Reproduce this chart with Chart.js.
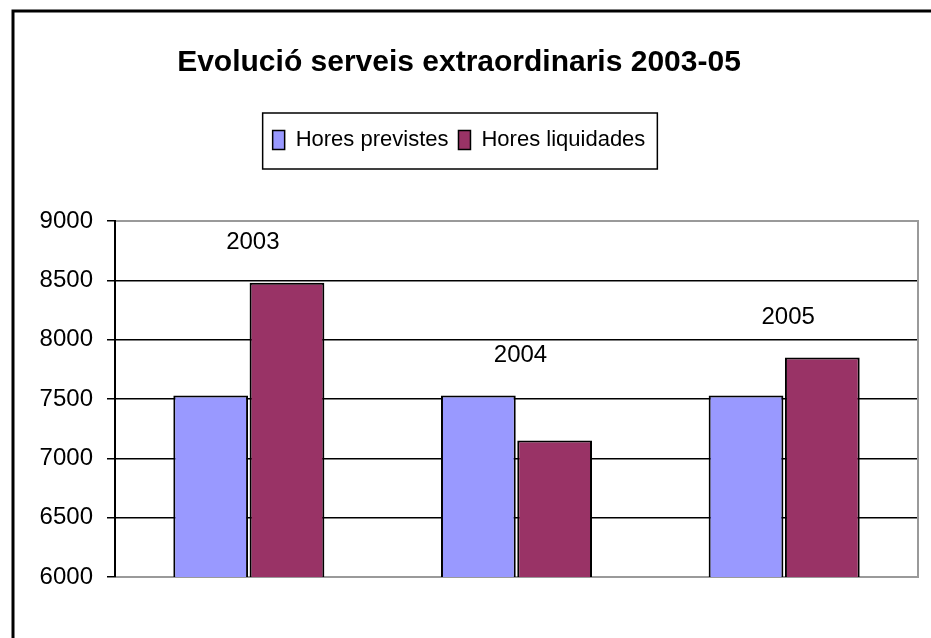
<!DOCTYPE html>
<html>
<head>
<meta charset="utf-8">
<script src="https://cdn.jsdelivr.net/npm/chart.js@4/dist/chart.umd.min.js"></script>
<style>
  html, body { margin: 0; padding: 0; background: #fff; }
  #wrap { width: 931px; height: 638px; position: relative; }
</style>
</head>
<body>
<div id="wrap"><canvas id="chart"></canvas></div>
<script>
// dades del grafic
const years = ['2003', '2004', '2005'];
const horesPrevistes = [7530, 7530, 7530];
const horesLiquidades = [8480, 7150, 7850];
const yTicks = [6000, 6500, 7000, 7500, 8000, 8500, 9000];

const FONT = "'Liberation Sans', Arial, sans-serif";

// marc exterior (nomes es veu a dalt i a l'esquerra)
const frame = {
    id: 'frame',
    beforeDraw(chart) {
        const ctx = chart.ctx;
        ctx.save();
        ctx.fillStyle = '#fff';
        ctx.fillRect(0, 0, chart.width, chart.height);
        ctx.strokeStyle = '#000';
        ctx.lineWidth = 3;
        ctx.beginPath();
        ctx.moveTo(13, chart.height);
        ctx.lineTo(13, 11);
        ctx.lineTo(chart.width, 11);
        ctx.stroke();
        ctx.restore();
    }
};

// espai entre la llegenda i el grafic
const legendSpace = {
    id: 'legendSpace',
    beforeInit(chart) {
        const fit = chart.legend.fit;
        chart.legend.fit = function() {
            fit.bind(chart.legend)();
            this.height += 60;
        };
    }
};

// requadre de la llegenda
const legendBox = {
    id: 'legendBox',
    afterDraw(chart) {
        const boxes = chart.legend.legendHitBoxes;
        if (!boxes || !boxes.length) return;
        const first = boxes[0];
        const last = boxes[boxes.length - 1];
        const ctx = chart.ctx;
        ctx.save();
        ctx.strokeStyle = '#000';
        ctx.lineWidth = 1.5;
        const x0 = first.left - 10;
        const x1 = last.left + last.width + 12;
        const y0 = first.top - 16;
        const y1 = first.top + first.height + 18;
        ctx.strokeRect(x0, y0, x1 - x0, y1 - y0);
        ctx.restore();
    }
};

// vores grises de l'area del grafic i etiquetes dels anys
const plotExtras = {
    id: 'plotExtras',
    beforeDatasetsDraw(chart) {
        const {ctx, chartArea: a} = chart;
        ctx.save();
        ctx.strokeStyle = '#9a9a9a';
        ctx.lineWidth = 2;
        ctx.beginPath();
        ctx.moveTo(a.left + 1, a.top);
        ctx.lineTo(a.right, a.top);
        ctx.lineTo(a.right, a.bottom);
        ctx.lineTo(a.left + 1, a.bottom);
        ctx.stroke();
        ctx.restore();
    },
    afterDatasetsDraw(chart) {
        const ctx = chart.ctx;
        const x = chart.scales.x;
        const y = chart.scales.y;
        ctx.save();
        ctx.fillStyle = '#000';
        ctx.font = '24px ' + FONT;
        ctx.textAlign = 'center';
        ctx.textBaseline = 'middle';
        years.forEach((yr, i) => {
            const top = Math.max(horesPrevistes[i], horesLiquidades[i]);
            ctx.fillText(yr, x.getPixelForValue(i) + 4, y.getPixelForValue(top) - 40);
        });
        ctx.restore();
    }
};

new Chart(document.getElementById('chart'), {
    type: 'bar',
    data: {
        labels: years,
        datasets: [{
            label: 'Hores previstes',
            data: horesPrevistes,
            backgroundColor: '#9999FF',
            borderColor: '#000',
            borderWidth: 2,
            categoryPercentage: 0.57,
            barPercentage: 0.98
        }, {
            label: 'Hores liquidades',
            data: horesLiquidades,
            backgroundColor: '#993366',
            borderColor: '#000',
            borderWidth: 2,
            categoryPercentage: 0.57,
            barPercentage: 0.98
        }]
    },
    options: {
        responsive: true,
        maintainAspectRatio: false,
        animation: false,
        layout: {
            padding: { top: 10, left: 0, right: 13, bottom: 61 }
        },
        plugins: {
            tooltip: { enabled: false },
            title: {
                display: true,
                text: 'Evolució serveis extraordinaris 2003-05',
                color: '#000',
                font: { family: FONT, size: 30, weight: 'bold' },
                padding: { top: 35, bottom: 38 }
            },
            legend: {
                display: true,
                labels: {
                    color: '#000',
                    font: { family: FONT, size: 22 },
                    boxWidth: 12,
                    boxHeight: 19,
                    padding: 10,
                    generateLabels(chart) {
                        return chart.data.datasets.map((ds, i) => ({
                            text: ds.label,
                            fillStyle: ds.backgroundColor,
                            strokeStyle: '#000',
                            lineWidth: 1.5,
                            datasetIndex: i,
                            fontColor: '#000'
                        }));
                    }
                }
            }
        },
        scales: {
            x: {
                display: false
            },
            y: {
                min: 6000,
                max: 9000,
                afterBuildTicks(scale) {
                    scale.ticks = yTicks.map(v => ({ value: v }));
                },
                afterFit(scale) {
                    scale.width = 115;
                },
                ticks: {
                    color: '#000',
                    font: { family: FONT, size: 24 },
                    padding: 14,
                    callback: v => String(v)
                },
                grid: {
                    color: '#000',
                    lineWidth: 1.5,
                    tickLength: 8,
                    tickColor: '#000'
                },
                border: {
                    color: '#000',
                    width: 2
                }
            }
        }
    },
    plugins: [frame, legendSpace, legendBox, plotExtras]
});
</script>
</body>
</html>
